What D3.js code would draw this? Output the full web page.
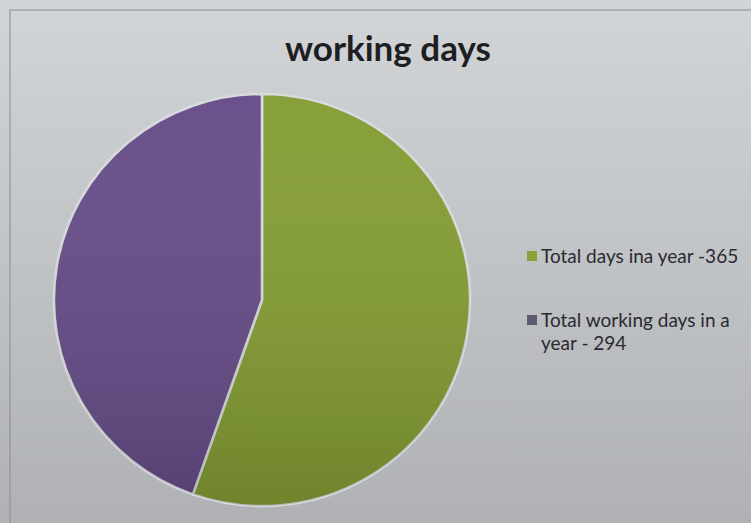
<!DOCTYPE html>
<html><head><meta charset="utf-8">
<script src="https://cdn.jsdelivr.net/npm/d3@7"></script>
<style>html,body{margin:0;padding:0;background:#c4c7cb;overflow:hidden}</style>
</head><body>
<svg id="c" width="751" height="523"></svg>
<script>
const categories = ["Total days ina year -365", "Total working days in a year - 294"];
const values = [365, 294];
const colors = ["#849d33", "#664c88"];
const swatchColors = ["#8aa23a", "#5c5a72"];
const title = "working days";

const svg = d3.select("#c");
const defs = svg.append("defs");
const bg = defs.append("linearGradient").attr("id","bg").attr("x1",0).attr("y1",0).attr("x2",0).attr("y2",1);
bg.append("stop").attr("offset","0%").attr("stop-color","#d2d5d8");
bg.append("stop").attr("offset","100%").attr("stop-color","#afb1b5");
const shade = defs.append("linearGradient").attr("id","shade").attr("x1",0).attr("y1",0).attr("x2",0).attr("y2",1);
shade.append("stop").attr("offset","0%").attr("stop-color","#fff").attr("stop-opacity",0.03);
shade.append("stop").attr("offset","100%").attr("stop-color","#000").attr("stop-opacity",0.16);

svg.append("rect").attr("width",751).attr("height",523).attr("fill","url(#bg)");
svg.append("rect").attr("x",10).attr("y",10).attr("width",760).attr("height",530)
  .attr("fill","none").attr("stroke","#8a8c90").attr("stroke-width",1);

svg.append("text").attr("x",388).attr("y",61).attr("text-anchor","middle")
  .attr("font-family","Lato, 'Open Sans', sans-serif").attr("font-weight","bold")
  .attr("font-size",35).attr("fill","#1e1e22").text(title);

const cx = 262, cy = 300, r = 206;
const pie = d3.pie().sort(null).value(d => d);
const arc = d3.arc().innerRadius(0).outerRadius(r);
const g = svg.append("g").attr("transform", `translate(${cx},${cy}) scale(1.01,1)`);
g.selectAll("path.s").data(pie(values)).join("path").attr("class","s")
  .attr("d", arc).attr("fill", (d,i) => colors[i])
  .attr("stroke", "#d8dadc").attr("stroke-width", 2.5);
g.append("circle").attr("r", r).attr("fill","url(#shade)");

const leg = svg.append("g").attr("font-family","Lato, 'Open Sans', sans-serif")
  .attr("font-size",19).attr("fill","#2a2a30");
const items = [
  {y: 263, lines: [categories[0]]},
  {y: 327, lines: ["Total working days in a", "year - 294"]}
];
items.forEach((it, i) => {
  leg.append("rect").attr("x",527).attr("y",it.y-12).attr("width",10).attr("height",10).attr("fill",swatchColors[i]);
  const t = leg.append("text").attr("x",541).attr("y",it.y);
  it.lines.forEach((l, j) => t.append("tspan").attr("x",541).attr("dy", j ? 23 : 0).text(l));
});
</script>
</body></html>
